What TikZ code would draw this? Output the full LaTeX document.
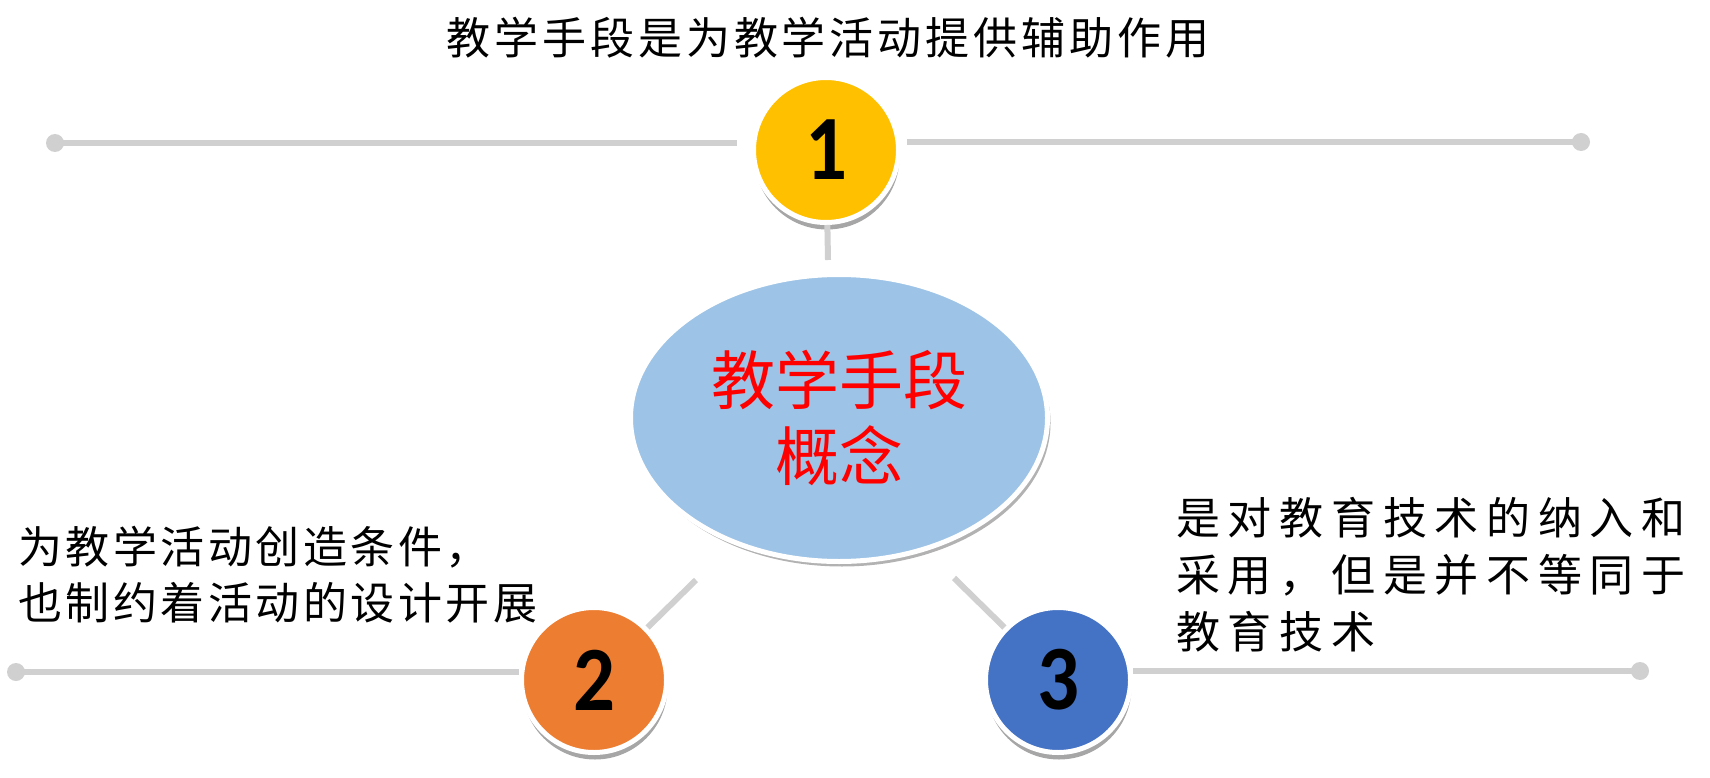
\documentclass[tikz,border=0pt]{standalone}
\usepackage{fontspec}
\newfontfamily\cjk{Noto Sans CJK SC}
\newfontfamily\numfont{Carlito}[FakeStretch=0.9]
\usetikzlibrary{shapes.geometric,shadows}
\definecolor{cyel}{HTML}{FFC000}
\definecolor{corg}{HTML}{ED7D31}
\definecolor{cblu}{HTML}{4472C4}
\definecolor{cell}{HTML}{9DC3E6}
\definecolor{lgray}{HTML}{D0D0D0}
\begin{document}
\begin{tikzpicture}[x=1pt,y=-1pt,
  numc/.style={circle, minimum size=145pt, inner sep=0pt, draw=white, line width=5pt,
    drop shadow={shadow xshift=1pt, shadow yshift=-7pt, opacity=0.35, fill=black},
    font=\numfont\bfseries\fontsize{92}{92}\selectfont, text=black},
  dotn/.style={circle, fill=lgray, minimum size=18pt, inner sep=0pt},
  conn/.style={draw=lgray, line width=6pt},
  txt/.style={inner sep=0pt, text=black}]
\useasboundingbox (0,0) rectangle (1710,778);
% central ellipse
\node[ellipse, minimum width=417pt, minimum height=287pt, inner sep=0pt, draw=white, line width=5pt, fill=cell,
  drop shadow={shadow xshift=3pt, shadow yshift=-5pt, opacity=0.3, fill=black},
  align=center, text=red, font=\cjk\fontsize{64}{76}\selectfont] (ell) at (839,418) {教学手段\\概念};
% number circles
\node[numc, fill=cyel] (c1) at (826,150) {1};
\node[numc, fill=corg] (c2) at (594,680) {2};
\node[numc, fill=cblu] (c3) at (1058,680) {3};
% end dots
\node[dotn] (d1) at (55,143) {};
\node[dotn] (d2) at (1581,142) {};
\node[dotn] (d3) at (16,672) {};
\node[dotn] (d4) at (1640,671) {};
% horizontal lines
\draw[conn, shorten >=14pt] (d1.center) -- (d1 -| c1.west);
\draw[conn, shorten <=6pt] (d2 -| c1.east) -- (d2.center);
\draw[conn] (d3.center) -- (d3 -| c2.west);
\draw[conn] (d4 -| c3.east) -- (d4.center);
% connectors
\coordinate (k1) at (828,260);
\coordinate (k2) at (696,580);
\coordinate (k3) at (954,578);
\draw[conn] (k1) -- (c1);
\draw[conn] (k2) -- (c2);
\draw[conn] (k3) -- (c3);
% texts
\node[txt, font=\cjk\fontsize{44}{52}\selectfont\addfontfeatures{LetterSpace=9}] (t1) at (828,38) {教学手段是为教学活动提供辅助作用};
\node[txt, anchor=west, align=left, font=\cjk\fontsize{44}{56}\selectfont\addfontfeatures{LetterSpace=8}] (t2) at (18,575) {为教学活动创造条件，\\也制约着活动的设计开展};
\node[txt, anchor=west, align=left, font=\cjk\fontsize{44}{57}\selectfont\addfontfeatures{LetterSpace=17.5}] (t3) at (1176,575) {是对教育技术的纳入和\\采用，但是并不等同于\\教育技术};
\end{tikzpicture}
\end{document}
